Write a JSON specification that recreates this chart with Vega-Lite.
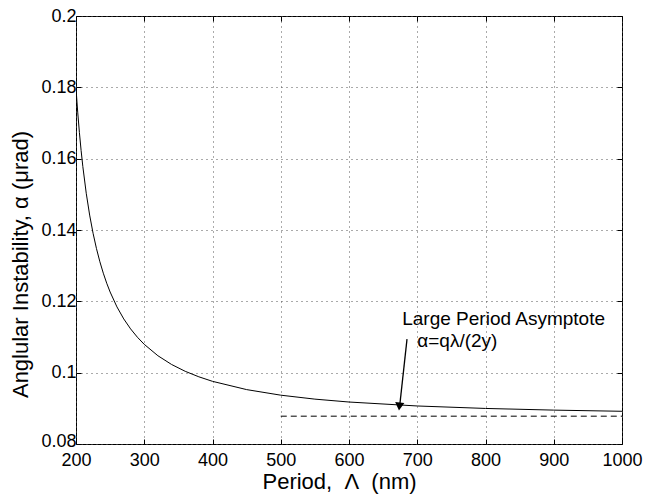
{
  "$schema": "https://vega.github.io/schema/vega-lite/v6.json",
  "width": 546,
  "height": 428,
  "autosize": {"type": "none"},
  "padding": {"left": 76, "top": 16, "right": 25, "bottom": 54},
  "background": "white",
  "config": {
    "view": {"stroke": "#000", "strokeWidth": 1},
    "font": "Liberation Sans",
    "axis": {
      "domain": false,
      "gridColor": "#555",
      "gridDash": [1, 4],
      "gridWidth": 1,
      "gridOpacity": 1,
      "tickColor": "#000",
      "tickSize": -5,
      "labelFont": "Liberation Sans",
      "labelFontSize": 18,
      "labelColor": "#000",
      "titleFont": "Liberation Sans",
      "titleFontSize": 22,
      "titleFontWeight": "normal",
      "titleColor": "#000"
    }
  },
  "datasets": {
    "curve": [
      {"L": 200, "a": 0.17969},
      {"L": 202.5, "a": 0.17305},
      {"L": 205, "a": 0.1673},
      {"L": 207.5, "a": 0.16226},
      {"L": 210, "a": 0.15782},
      {"L": 215, "a": 0.1503},
      {"L": 220, "a": 0.14418},
      {"L": 225, "a": 0.13908},
      {"L": 230, "a": 0.13478},
      {"L": 235, "a": 0.13109},
      {"L": 240, "a": 0.12789},
      {"L": 245, "a": 0.12508},
      {"L": 250, "a": 0.12261},
      {"L": 260, "a": 0.11844},
      {"L": 270, "a": 0.11506},
      {"L": 280, "a": 0.11227},
      {"L": 290, "a": 0.10993},
      {"L": 300, "a": 0.10794},
      {"L": 320, "a": 0.10475},
      {"L": 340, "a": 0.1023},
      {"L": 360, "a": 0.10038},
      {"L": 380, "a": 0.09884},
      {"L": 400, "a": 0.09757},
      {"L": 450, "a": 0.09525},
      {"L": 500, "a": 0.09369},
      {"L": 550, "a": 0.09258},
      {"L": 600, "a": 0.09177},
      {"L": 700, "a": 0.09066},
      {"L": 800, "a": 0.08997},
      {"L": 900, "a": 0.0895},
      {"L": 1000, "a": 0.08917}
    ],
    "asym": [
      {"L": 500, "a": 0.0878},
      {"L": 1000, "a": 0.0878}
    ],
    "arrow": [
      {"x1": 685, "y1": 0.1094, "x2": 674, "y2": 0.0902}
    ],
    "head": [
      {"L": 673.8, "a": 0.0905}
    ],
    "labels": [
      {"L": 678, "a": 0.1134, "t": "Large Period Asymptote"},
      {"L": 700, "a": 0.1072, "t": "α=qλ/(2y)"}
    ]
  },
  "resolve": {"axis": {"x": "independent", "y": "independent"}},
  "layer": [
    {
      "data": {"name": "curve"},
      "mark": {"type": "line", "color": "#000", "strokeWidth": 1, "clip": true},
      "encoding": {
        "x": {
          "field": "L", "type": "quantitative",
          "scale": {"domain": [200, 1000], "nice": false, "zero": false},
          "axis": {
            "orient": "bottom",
            "values": [200, 300, 400, 500, 600, 700, 800, 900, 1000],
            "format": "d",
            "labelPadding": 12,
            "labelFlush": false,
            "title": "Period,\u00a0\u00a0Λ\u00a0\u00a0(nm)",
            "titleX": 263,
            "titleY": 44,
            "titleBaseline": "alphabetic",
            "titleAlign": "center",
            "titleAnchor": null
          }
        },
        "y": {
          "field": "a", "type": "quantitative",
          "scale": {"domain": [0.08, 0.2], "nice": false, "zero": false},
          "axis": {
            "orient": "left",
            "values": [0.08, 0.1, 0.12, 0.14, 0.16, 0.18, 0.2],
            "format": "~g",
            "labelPadding": 5,
            "labelOffset": {"condition": {"test": "datum.value < 0.09", "value": -3}, "value": 0},
            "labelFlush": false,
            "title": "Anglular Instability, α (μrad)",
            "titleAngle": -90,
            "titleX": -49,
            "titleY": 248,
            "titleBaseline": "alphabetic",
            "titleAlign": "center",
            "titleAnchor": null
          }
        }
      }
    },
    {
      "data": {"name": "asym"},
      "mark": {"type": "line", "color": "#000", "strokeWidth": 1, "strokeDash": [6, 4]},
      "encoding": {
        "x": {"field": "L", "type": "quantitative", "axis": {"orient": "top", "labels": false, "grid": false, "title": null, "values": [200, 300, 400, 500, 600, 700, 800, 900, 1000]}},
        "y": {"field": "a", "type": "quantitative", "axis": {"orient": "right", "labels": false, "grid": false, "title": null, "values": [0.08, 0.1, 0.12, 0.14, 0.16, 0.18, 0.2]}}
      }
    },
    {
      "data": {"name": "arrow"},
      "mark": {"type": "rule", "color": "#000", "strokeWidth": 1.3},
      "encoding": {
        "x": {"field": "x1", "type": "quantitative", "axis": null},
        "y": {"field": "y1", "type": "quantitative", "axis": null},
        "x2": {"field": "x2"},
        "y2": {"field": "y2"}
      }
    },
    {
      "data": {"name": "head"},
      "mark": {"type": "point", "shape": "triangle-down", "filled": true, "color": "#000", "opacity": 1, "size": 85, "angle": 6},
      "encoding": {
        "x": {"field": "L", "type": "quantitative", "axis": null},
        "y": {"field": "a", "type": "quantitative", "axis": null}
      }
    },
    {
      "data": {"name": "labels"},
      "mark": {"type": "text", "align": "left", "baseline": "alphabetic", "fontSize": 19, "font": "Liberation Sans", "color": "#000"},
      "encoding": {
        "x": {"field": "L", "type": "quantitative", "axis": null},
        "y": {"field": "a", "type": "quantitative", "axis": null},
        "text": {"field": "t", "type": "nominal"}
      }
    }
  ]
}
